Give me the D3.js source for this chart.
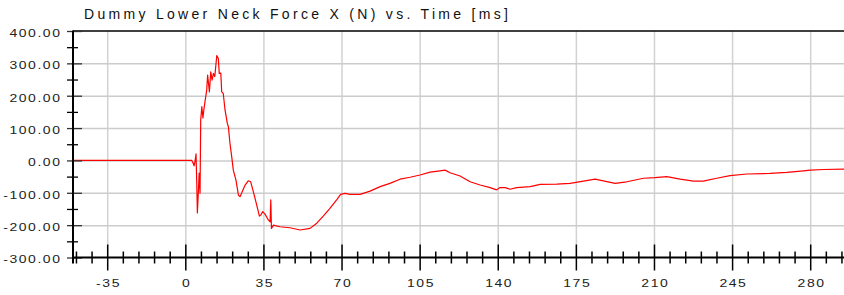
<!DOCTYPE html>
<html>
<head>
<meta charset="utf-8">
<script src="https://cdn.jsdelivr.net/npm/d3@7"></script>
<style>
  html, body { margin: 0; padding: 0; background: #fff; }
  svg { display: block; font-family: "Liberation Sans", Arial, sans-serif; }
</style>
</head>
<body>
<svg id="chart" width="844" height="295"></svg>
<script>
const chartTitle = "Dummy Lower Neck Force X (N) vs. Time [ms]";

// time (ms) and force (N)
const timeMs = [-50, 2.9, 3.5, 3.9, 4.3, 4.8, 5.1, 5.4, 5.9, 6.2, 6.6, 6.9, 7.4, 7.9, 8.3, 8.8, 9.6, 10.0,
  10.8, 11.4, 12.0, 12.6, 13.2, 14.1, 14.8, 15.2, 15.9, 16.3, 17.0, 17.8, 18.8, 19.3, 20.0, 20.8, 21.5,
  22.7, 23.8, 24.5, 25.3, 26.8, 28.2, 29.3, 30.5, 32.0, 33.2, 33.8, 34.7, 35.7, 37.2, 38.0, 38.3, 38.6,
  39.5, 42.4, 46.9, 51.4, 55.9, 58.9, 61.8, 64.8, 67.8, 69.6, 71.6, 73.8, 78.3, 82.8, 87.3, 91.7, 96.2,
  100.7, 105.2, 109.7, 114.1, 116.4, 118.6, 123.1, 127.6, 132.1, 136.6, 139.5, 141, 143.3, 145.5, 148.5,
  154.5, 159, 166.4, 172.4, 178.4, 183.6, 187.3, 192.6, 197.8, 205.3, 210.5, 215.7, 221.7, 227.7, 232.1,
  238.1, 244.1, 251.6, 262, 269.5, 277, 280, 286, 295, 300];
const forceN = [0, 0, -8, -17, -5, 20, -60, -162, -90, -39, -101, 125, 166, 131, 156, 181, 218, 264,
  212, 274, 248, 269, 259, 324, 315, 269, 270, 212, 207, 156, 115, 104, 53, 11, -30,
  -61, -107, -112, -100, -76, -63, -66, -97, -138, -172, -169, -158, -166, -184, -190, -122, -210,
  -200, -205, -208, -215, -210, -194, -172, -148, -122, -105, -102, -105, -105, -95, -81, -71, -58,
  -52, -45, -36, -32, -30, -38, -48, -66, -76, -84, -91, -84, -84, -89, -84,
  -81, -74, -73, -71, -64, -58, -63, -71, -66, -55, -53, -50, -58, -64, -64,
  -55, -47, -42, -40, -37, -32, -30, -28, -27, -27];

const xTicks = [-35, 0, 35, 70, 105, 140, 175, 210, 245, 280];
const xMinorTicks = d3.range(-49, 300, 7).filter(d => d % 35 !== 0);
const yTicks = [-300, -200, -100, 0, 100, 200, 300, 400];
const yMinorTicks = [-250, -150, -50, 50, 150, 250, 350];
const yTickLabels = ["-300.00", "-200.00", "-100.00", "0.00", "100.00", "200.00", "300.00", "400.00"];

const W = 844, H = 295;
const pLeft = 73, pTop = 31, pBottom = 257.5, pRight = 844;

const x = d3.scaleLinear().domain([-35, 280]).range([107.2, 810.2]);
const y = d3.scaleLinear().domain([-300, 400]).range([pBottom, pTop]);

const svg = d3.select('#chart');

// grid
svg.append('g')
  .attr('transform', 'translate(0,' + pTop + ')')
  .call(d3.axisBottom(x).tickValues(xTicks).tickSize(pBottom - pTop).tickFormat(''))
  .call(g => g.select('.domain').remove())
  .selectAll('line').attr('stroke', '#d2d2d2').attr('stroke-width', 1.5);

svg.append('g')
  .attr('transform', 'translate(' + pLeft + ',0)')
  .call(d3.axisRight(y).tickValues(yTicks.slice(1, -1)).tickSize(pRight - pLeft).tickFormat(''))
  .call(g => g.select('.domain').remove())
  .selectAll('line').attr('stroke', '#cccccc').attr('stroke-width', 1.5);

// curve
svg.append('clipPath').attr('id', 'plot')
  .append('rect').attr('x', pLeft).attr('y', pTop).attr('width', pRight - pLeft).attr('height', pBottom - pTop);

const pts = timeMs.map((t, i) => [t, forceN[i]]);
svg.append('path')
  .datum(pts)
  .attr('clip-path', 'url(#plot)')
  .attr('fill', 'none')
  .attr('stroke', '#ff0000')
  .attr('stroke-width', 1.2)
  .attr('stroke-linejoin', 'round')
  .attr('d', d3.line().x(d => x(d[0])).y(d => y(d[1])));

// top border
svg.append('line')
  .attr('x1', pLeft).attr('x2', pRight).attr('y1', pTop).attr('y2', pTop)
  .attr('stroke', '#000').attr('stroke-width', 1.5);

// y ticks
svg.append('g')
  .attr('transform', 'translate(' + (pLeft + 9) + ',0)')
  .call(d3.axisLeft(y).tickValues(yTicks).tickSize(15).tickFormat(''))
  .call(g => g.select('.domain').remove())
  .selectAll('line').attr('stroke', '#333').attr('stroke-width', 1.3);

svg.append('g')
  .attr('transform', 'translate(' + (pLeft + 5) + ',0)')
  .call(d3.axisLeft(y).tickValues(yMinorTicks).tickSize(11).tickFormat(''))
  .call(g => g.select('.domain').remove())
  .selectAll('line').attr('stroke', '#000').attr('stroke-width', 1.3);

// y labels
svg.append('g').selectAll('text')
  .data(yTicks)
  .enter()
  .append('text')
  .attr('transform', d => 'translate(61.5,' + (y(d) + 5.8) + ') scale(1.4,1)')
  .attr('text-anchor', 'end')
  .style('font-size', '10px')
  .style('letter-spacing', '1.1px')
  .attr('fill', '#222')
  .text((d, i) => yTickLabels[i]);

// x ticks
svg.append('g')
  .attr('transform', 'translate(0,' + (pBottom - 6) + ')')
  .call(d3.axisBottom(x).tickValues(xMinorTicks).tickSize(12).tickFormat(''))
  .call(g => g.select('.domain').remove())
  .selectAll('line').attr('stroke', '#000').attr('stroke-width', 1.5);

const xAxis = svg.append('g')
  .attr('transform', 'translate(0,' + (pBottom - 13) + ')')
  .call(d3.axisBottom(x).tickValues(xTicks).tickSize(26).tickFormat(d => d))
  .call(g => g.select('.domain').remove());
xAxis.selectAll('line').attr('stroke', '#000').attr('stroke-width', 1.5);
xAxis.selectAll('text')
  .attr('y', 43)
  .attr('dy', null)
  .attr('x', 0.6)
  .attr('transform', 'scale(1.4,1)')
  .attr('fill', '#222')
  .style('font-size', '10px')
  .style('letter-spacing', '1.1px')
  .style('font-family', '"Liberation Sans", Arial, sans-serif');

// axis lines
svg.append('line')
  .attr('x1', pLeft).attr('x2', pLeft).attr('y1', pTop - 0.5).attr('y2', pBottom + 6)
  .attr('stroke', '#000').attr('stroke-width', 2);
svg.append('line')
  .attr('x1', pLeft).attr('x2', pRight).attr('y1', pBottom).attr('y2', pBottom)
  .attr('stroke', '#000').attr('stroke-width', 2);

// title
svg.append('text')
  .attr('x', 84)
  .attr('y', 18.5)
  .style('font-size', '14px')
  .style('letter-spacing', '3.3px')
  .attr('fill', '#111')
  .text(chartTitle);
</script>
</body>
</html>
